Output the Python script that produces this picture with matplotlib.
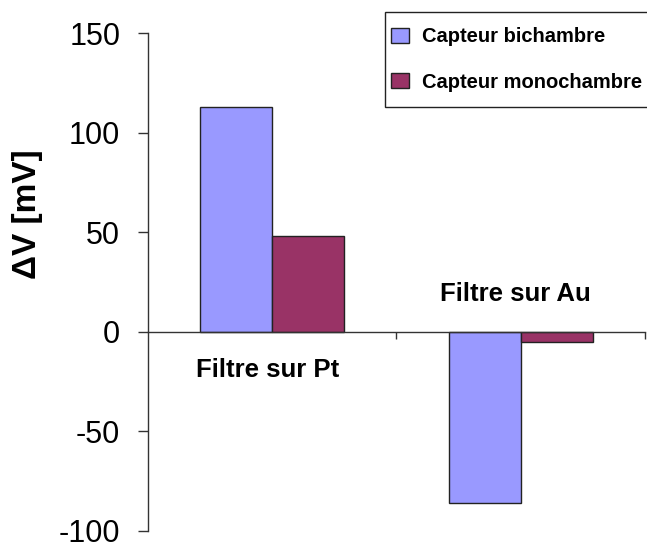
import matplotlib
matplotlib.use("Agg")
import matplotlib.pyplot as plt
from matplotlib.patches import Rectangle
import numpy as np

# --- data ---
categories = ["Filtre sur Pt", "Filtre sur Au"]
bichambre = [113, -86]
monochambre = [48, -5]
series_names = ["Capteur bichambre", "Capteur monochambre"]
yticks = [-100, -50, 0, 50, 100, 150]

plt.rcParams["font.family"] = ["Liberation Sans", "DejaVu Sans"]

W, H = 647, 546
fig = plt.figure(figsize=(W / 100, H / 100), dpi=100)
ax = fig.add_axes([0.2287, 0.0275, 0.768, 0.912])

x = np.arange(len(categories))
w = 0.29
b1 = ax.bar(x - w / 2, bichambre, w, color="#9999FF", edgecolor="#222222",
            linewidth=1.0, label=series_names[0], zorder=2)
b2 = ax.bar(x + w / 2, monochambre, w, color="#993366", edgecolor="#222222",
            linewidth=1.0, label=series_names[1], zorder=2)

ax.set_xlim(-0.5, 1.5)
ax.set_ylim(-100, 150)
ax.set_yticks(yticks)
ax.set_yticklabels([str(v) for v in yticks], fontsize=22)

# axis line through zero with category separators
ax.spines["top"].set_visible(False)
ax.spines["right"].set_visible(False)
ax.spines["bottom"].set_position(("data", 0))
ax.spines["bottom"].set_zorder(3)
for s in ("left", "bottom"):
    ax.spines[s].set_color("#333333")
    ax.spines[s].set_linewidth(1.0)
ax.set_xticks([0.5, 1.5])
ax.set_xticklabels([])
ax.tick_params(axis="x", direction="out", length=5, width=1, color="#333333")
ax.tick_params(axis="y", direction="out", length=7, width=1, color="#333333", pad=13)

# category names: below the line for positive bars, above for negative ones
for i, (name, v) in enumerate(zip(categories, bichambre)):
    dy = -38 if v >= 0 else 38
    ax.annotate(name, xy=(i - 0.02, 0), xytext=(0, dy), textcoords="offset pixels",
                ha="center", va="center", fontsize=18.5, fontweight="bold")

ax.set_ylabel("ΔV [mV]", fontsize=24, fontweight="bold")
ax.yaxis.set_label_coords(-0.211, 0.636)

# legend box running off the right edge
fig.patches.append(Rectangle((385 / W, 1 - 107 / H), 0.5, 95 / H,
                             transform=fig.transFigure, facecolor="white",
                             edgecolor="#222222", linewidth=1.0, zorder=5))
leg = fig.legend(handles=[b1, b2], loc="center left",
                 bbox_to_anchor=(391 / W, 1 - 59.5 / H),
                 bbox_transform=fig.transFigure, frameon=False, borderpad=0,
                 borderaxespad=0, prop={"size": 14.5, "weight": "bold"},
                 handlelength=0.9, handleheight=0.75, labelspacing=1.3,
                 handletextpad=0.65)
leg.set_zorder(6)

fig.savefig("out.png", dpi=100)
